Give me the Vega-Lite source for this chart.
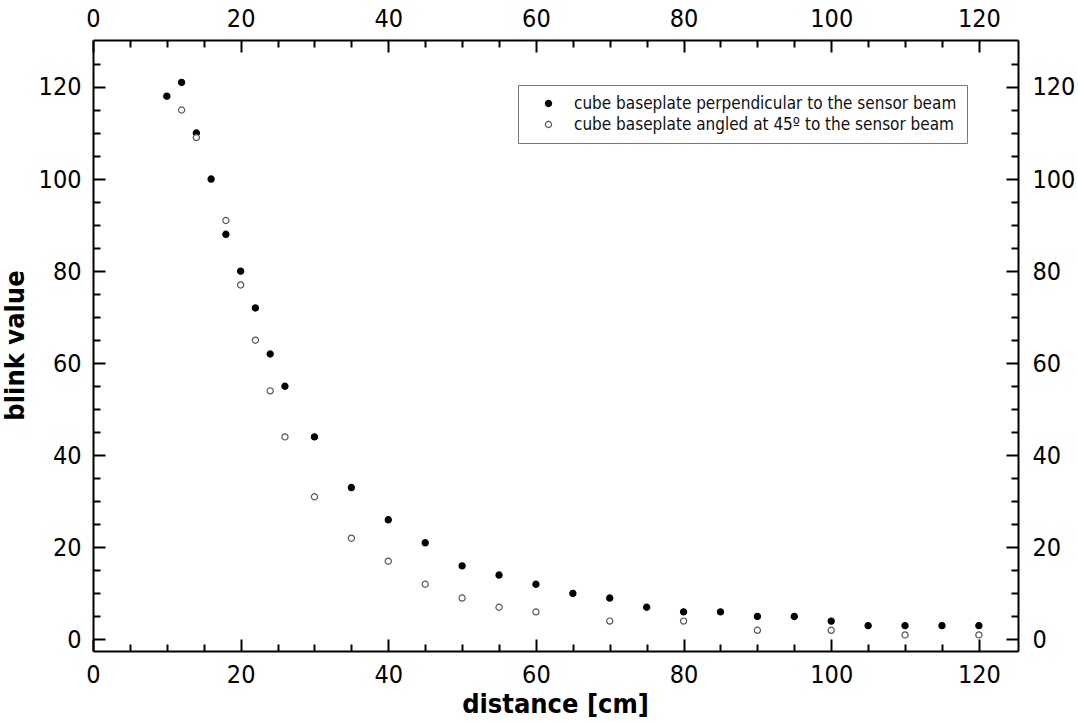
{
  "$schema": "https://vega.github.io/schema/vega-lite/v6.json",
  "width": 925,
  "height": 611,
  "autosize": "none",
  "padding": {"left": 93, "top": 40, "right": 60, "bottom": 72},
  "background": "white",
  "config": {
    "view": {"stroke": null},
    "font": "DejaVu Sans Condensed",
    "axis": {
      "domainColor": "black",
      "domainWidth": 2,
      "tickColor": "black",
      "tickWidth": 2,
      "labelFont": "DejaVu Sans Condensed",
      "labelFontSize": 25,
      "labelColor": "black",
      "grid": false,
      "titleFont": "DejaVu Sans Condensed",
      "titleFontSize": 27,
      "titleFontWeight": "bold",
      "titleColor": "black"
    }
  },
  "data": {
    "values": [
      {"distance": 10, "blink": 118, "series": "cube baseplate perpendicular to the sensor beam"},
      {"distance": 12, "blink": 121, "series": "cube baseplate perpendicular to the sensor beam"},
      {"distance": 14, "blink": 110, "series": "cube baseplate perpendicular to the sensor beam"},
      {"distance": 16, "blink": 100, "series": "cube baseplate perpendicular to the sensor beam"},
      {"distance": 18, "blink": 88, "series": "cube baseplate perpendicular to the sensor beam"},
      {"distance": 20, "blink": 80, "series": "cube baseplate perpendicular to the sensor beam"},
      {"distance": 22, "blink": 72, "series": "cube baseplate perpendicular to the sensor beam"},
      {"distance": 24, "blink": 62, "series": "cube baseplate perpendicular to the sensor beam"},
      {"distance": 26, "blink": 55, "series": "cube baseplate perpendicular to the sensor beam"},
      {"distance": 30, "blink": 44, "series": "cube baseplate perpendicular to the sensor beam"},
      {"distance": 35, "blink": 33, "series": "cube baseplate perpendicular to the sensor beam"},
      {"distance": 40, "blink": 26, "series": "cube baseplate perpendicular to the sensor beam"},
      {"distance": 45, "blink": 21, "series": "cube baseplate perpendicular to the sensor beam"},
      {"distance": 50, "blink": 16, "series": "cube baseplate perpendicular to the sensor beam"},
      {"distance": 55, "blink": 14, "series": "cube baseplate perpendicular to the sensor beam"},
      {"distance": 60, "blink": 12, "series": "cube baseplate perpendicular to the sensor beam"},
      {"distance": 65, "blink": 10, "series": "cube baseplate perpendicular to the sensor beam"},
      {"distance": 70, "blink": 9, "series": "cube baseplate perpendicular to the sensor beam"},
      {"distance": 75, "blink": 7, "series": "cube baseplate perpendicular to the sensor beam"},
      {"distance": 80, "blink": 6, "series": "cube baseplate perpendicular to the sensor beam"},
      {"distance": 85, "blink": 6, "series": "cube baseplate perpendicular to the sensor beam"},
      {"distance": 90, "blink": 5, "series": "cube baseplate perpendicular to the sensor beam"},
      {"distance": 95, "blink": 5, "series": "cube baseplate perpendicular to the sensor beam"},
      {"distance": 100, "blink": 4, "series": "cube baseplate perpendicular to the sensor beam"},
      {"distance": 105, "blink": 3, "series": "cube baseplate perpendicular to the sensor beam"},
      {"distance": 110, "blink": 3, "series": "cube baseplate perpendicular to the sensor beam"},
      {"distance": 115, "blink": 3, "series": "cube baseplate perpendicular to the sensor beam"},
      {"distance": 120, "blink": 3, "series": "cube baseplate perpendicular to the sensor beam"},
      {"distance": 12, "blink": 115, "series": "cube baseplate angled at 45º to the sensor beam"},
      {"distance": 14, "blink": 109, "series": "cube baseplate angled at 45º to the sensor beam"},
      {"distance": 18, "blink": 91, "series": "cube baseplate angled at 45º to the sensor beam"},
      {"distance": 20, "blink": 77, "series": "cube baseplate angled at 45º to the sensor beam"},
      {"distance": 22, "blink": 65, "series": "cube baseplate angled at 45º to the sensor beam"},
      {"distance": 24, "blink": 54, "series": "cube baseplate angled at 45º to the sensor beam"},
      {"distance": 26, "blink": 44, "series": "cube baseplate angled at 45º to the sensor beam"},
      {"distance": 30, "blink": 31, "series": "cube baseplate angled at 45º to the sensor beam"},
      {"distance": 35, "blink": 22, "series": "cube baseplate angled at 45º to the sensor beam"},
      {"distance": 40, "blink": 17, "series": "cube baseplate angled at 45º to the sensor beam"},
      {"distance": 45, "blink": 12, "series": "cube baseplate angled at 45º to the sensor beam"},
      {"distance": 50, "blink": 9, "series": "cube baseplate angled at 45º to the sensor beam"},
      {"distance": 55, "blink": 7, "series": "cube baseplate angled at 45º to the sensor beam"},
      {"distance": 60, "blink": 6, "series": "cube baseplate angled at 45º to the sensor beam"},
      {"distance": 70, "blink": 4, "series": "cube baseplate angled at 45º to the sensor beam"},
      {"distance": 80, "blink": 4, "series": "cube baseplate angled at 45º to the sensor beam"},
      {"distance": 90, "blink": 2, "series": "cube baseplate angled at 45º to the sensor beam"},
      {"distance": 100, "blink": 2, "series": "cube baseplate angled at 45º to the sensor beam"},
      {"distance": 110, "blink": 1, "series": "cube baseplate angled at 45º to the sensor beam"},
      {"distance": 120, "blink": 1, "series": "cube baseplate angled at 45º to the sensor beam"}
    ]
  },
  "layer": [
    {
      "mark": {"type": "point", "shape": "circle", "size": 38, "strokeWidth": 1.2, "opacity": 1, "filled": false},
      "encoding": {
        "x": {
          "field": "distance", "type": "quantitative",
          "scale": {"domain": [0, 125.3], "nice": false, "zero": false},
          "axis": {
            "orient": "bottom",
            "title": "distance [cm]",
            "values": [0, 5, 10, 15, 20, 25, 30, 35, 40, 45, 50, 55, 60, 65, 70, 75, 80, 85, 90, 95, 100, 105, 110, 115, 120],
            "labelExpr": "datum.value % 20 === 0 ? datum.label : ''",
            "tickSize": {"condition": {"test": "datum.value % 20 === 0", "value": -12}, "value": -7},
            "labelPadding": 23,
            "labelFlush": false,
            "titleX": 462,
            "titleY": 53,
            "titleBaseline": "middle",
            "titleAlign": "center"
          }
        },
        "y": {
          "field": "blink", "type": "quantitative",
          "scale": {"domain": [-2.5, 130.2], "nice": false, "zero": false},
          "axis": {
            "orient": "left",
            "title": "blink value",
            "values": [0, 5, 10, 15, 20, 25, 30, 35, 40, 45, 50, 55, 60, 65, 70, 75, 80, 85, 90, 95, 100, 105, 110, 115, 120, 125],
            "labelExpr": "datum.value % 20 === 0 ? datum.label : ''",
            "tickSize": {"condition": {"test": "datum.value % 20 === 0", "value": -12}, "value": -7},
            "labelPadding": 24,
            "labelFlush": false,
            "titleAngle": -90,
            "titleX": -78,
            "titleY": 305,
            "titleBaseline": "middle",
            "titleAlign": "center"
          }
        },
        "fill": {
          "field": "series", "type": "nominal",
          "scale": {"domain": ["cube baseplate perpendicular to the sensor beam", "cube baseplate angled at 45º to the sensor beam"], "range": ["black", "white"]},
          "legend": {
            "title": null,
            "orient": "none",
            "legendX": 425,
            "legendY": 45,
            "padding": 10,
            "strokeColor": "#777777",
            "symbolOffset": 12,
            "labelOffset": 17,
            "labelFont": "DejaVu Sans Condensed",
            "labelFontSize": 17,
            "labelColor": "#111111",
            "labelLimit": 600,
            "symbolSize": 38,
            "symbolStrokeWidth": 1.2,
            "rowPadding": 3
          }
        },
        "stroke": {
          "field": "series", "type": "nominal",
          "scale": {"domain": ["cube baseplate perpendicular to the sensor beam", "cube baseplate angled at 45º to the sensor beam"], "range": ["black", "#555555"]},
          "legend": {
            "title": null,
            "orient": "none",
            "legendX": 425,
            "legendY": 45,
            "padding": 10,
            "strokeColor": "#777777",
            "symbolOffset": 12,
            "labelOffset": 17,
            "labelFont": "DejaVu Sans Condensed",
            "labelFontSize": 17,
            "labelColor": "#111111",
            "labelLimit": 600,
            "symbolSize": 38,
            "symbolStrokeWidth": 1.2,
            "rowPadding": 3
          }
        }
      }
    },
    {
      "mark": {"type": "point", "shape": "circle", "opacity": 0},
      "encoding": {
        "x": {
          "field": "distance", "type": "quantitative",
          "axis": {
            "orient": "top",
            "title": null,
            "values": [0, 5, 10, 15, 20, 25, 30, 35, 40, 45, 50, 55, 60, 65, 70, 75, 80, 85, 90, 95, 100, 105, 110, 115, 120],
            "labelExpr": "datum.value % 20 === 0 ? datum.label : ''",
            "tickSize": {"condition": {"test": "datum.value % 20 === 0", "value": -12}, "value": -7},
            "labelPadding": 21,
            "labelFlush": false
          }
        },
        "y": {
          "field": "blink", "type": "quantitative",
          "axis": {
            "orient": "right",
            "title": null,
            "values": [0, 5, 10, 15, 20, 25, 30, 35, 40, 45, 50, 55, 60, 65, 70, 75, 80, 85, 90, 95, 100, 105, 110, 115, 120, 125],
            "labelExpr": "datum.value % 20 === 0 ? datum.label : ''",
            "tickSize": {"condition": {"test": "datum.value % 20 === 0", "value": -12}, "value": -7},
            "labelPadding": 26,
            "labelFlush": false
          }
        }
      }
    }
  ],
  "resolve": {"axis": {"x": "independent", "y": "independent"}}
}
